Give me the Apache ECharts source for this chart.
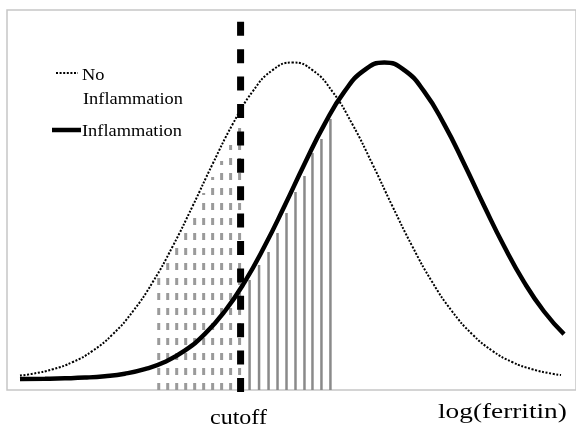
<!DOCTYPE html>
<html>
<head>
<meta charset="utf-8">
<script src="https://cdn.jsdelivr.net/npm/echarts@6/dist/echarts.min.js"></script>
<style>
  html, body { margin: 0; padding: 0; background: #fff; }
  #chart { width: 576px; height: 429px; }
</style>
</head>
<body>
<div id="chart"></div>
<script>
// x: log(ferritin), arbitrary units; y: relative density
let noInflX = [2.0, 3.3, 5.3, 7.3, 9.3, 11.3, 13.3, 15.3, 17.3, 19.3, 21.3, 23.3, 25.3, 27.3, 29.3,
    31.3, 33.3, 35.3, 37.3, 39.3, 41.3, 43.3, 45.3, 47.3, 49.3, 51.3, 53.3, 55.3, 56.2];
let noInflY = [1.45, 1.63, 2.08, 2.8, 3.93, 5.58, 7.85, 10.79, 14.37, 18.4, 22.61, 26.57, 29.84, 31.99, 32.75,
    31.99, 29.84, 26.57, 22.61, 18.4, 14.37, 10.79, 7.85, 5.58, 3.93, 2.8, 2.08, 1.63, 1.5];

let inflX = [2.0, 4.5, 6.5, 8.5, 10.5, 12.5, 14.5, 16.5, 18.5, 20.5, 22.5, 24.5, 26.5, 28.5, 30.5,
    32.5, 34.5, 36.5, 38.5, 40.5, 42.5, 44.5, 46.5, 48.5, 50.5, 52.5, 54.5, 56.5];
let inflY = [1.1, 1.13, 1.17, 1.24, 1.38, 1.63, 2.08, 2.8, 3.93, 5.58, 7.85, 10.79, 14.37, 18.4, 22.61,
    26.57, 29.84, 31.99, 32.75, 31.99, 29.84, 26.57, 22.61, 18.4, 14.37, 10.79, 7.85, 5.58];

let cutoff = 24.1;
let cutoffRange = [-0.2, 36.9];

// shaded areas: no inflammation below cutoff (dashed), inflammation above cutoff (solid)
let belowX = [15.9, 16.8, 17.7, 18.6, 19.5, 20.4, 21.3, 22.2, 23.1, 24.0];
let belowH = [11.7, 13.3, 14.9, 16.5, 18.0, 19.7, 21.3, 22.9, 24.5, 27.0];
let aboveX = [25.0, 25.95, 26.9, 27.8, 28.7, 29.6, 30.5, 31.3, 32.2, 33.1];
let aboveH = [11.0, 12.5, 13.8, 15.7, 17.7, 19.8, 21.4, 23.7, 25.1, 27.1];

function pairs(xs, ys) {
    return xs.map((x, i) => [x, ys[i]]);
}

function vline(color, width, dash, fromY) {
    return function (params, api) {
        let x = api.value(0);
        let p0 = api.coord([x, fromY]);
        let p1 = api.coord([x, api.value(1)]);
        return {
            type: 'line',
            shape: { x1: p0[0], y1: p0[1], x2: p1[0], y2: p1[1] },
            style: { stroke: color, lineWidth: width, lineDash: dash }
        };
    };
}

let serif = 'Liberation Serif';

function label(text, x, y, size, sx) {
    return {
        type: 'text', x: x, y: y, scaleX: sx, z: 10,
        style: {
            text: text, font: size + 'px "' + serif + '"', fill: '#000',
            textAlign: 'left', textVerticalAlign: 'middle'
        }
    };
}

let chart = echarts.init(document.getElementById('chart'));

chart.setOption({
    animation: false,
    grid: {
        left: 7, top: 10, width: 570, height: 380,
        show: true, borderColor: '#c6c6c6', borderWidth: 1.5
    },
    xAxis: { type: 'value', min: 0.7, max: 57.7, show: false },
    yAxis: { type: 'value', min: 0, max: 38, show: false },
    series: [
        {
            type: 'custom', z: 1,
            data: pairs(belowX, belowH),
            renderItem: vline('#9a9a9a', 3, [7, 8], 0)
        },
        {
            type: 'custom', z: 1,
            data: pairs(aboveX, aboveH),
            renderItem: vline('#8a8a8a', 2.5, null, 0)
        },
        {
            type: 'custom', z: 2,
            data: [[cutoff, cutoffRange[1]]],
            renderItem: vline('#000', 7, [14, 13.4], cutoffRange[0])
        },
        {
            name: 'No Inflammation', type: 'line', z: 3,
            data: pairs(noInflX, noInflY),
            smooth: true, showSymbol: false, symbol: 'none',
            lineStyle: { color: '#000', width: 2, type: [2, 1.6] }
        },
        {
            name: 'Inflammation', type: 'line', z: 4,
            data: pairs(inflX, inflY),
            smooth: true, showSymbol: false, symbol: 'none',
            lineStyle: { color: '#000', width: 4.5 }
        }
    ],
    graphic: [
        {
            type: 'line', z: 10,
            shape: { x1: 56, y1: 73, x2: 78, y2: 73 },
            style: { stroke: '#000', lineWidth: 2, lineDash: [2, 1.6] }
        },
        {
            type: 'line', z: 10,
            shape: { x1: 52, y1: 130, x2: 81, y2: 130 },
            style: { stroke: '#000', lineWidth: 4.5 }
        },
        label('No', 82, 76, 17, 1.08),
        label('Inflammation', 83, 100, 17, 1.08),
        label('Inflammation', 82, 132, 17, 1.08),
        label('cutoff', 210, 419, 20, 1.2),
        label('log(ferritin)', 438, 412, 21, 1.3)
    ]
});
</script>
</body>
</html>
